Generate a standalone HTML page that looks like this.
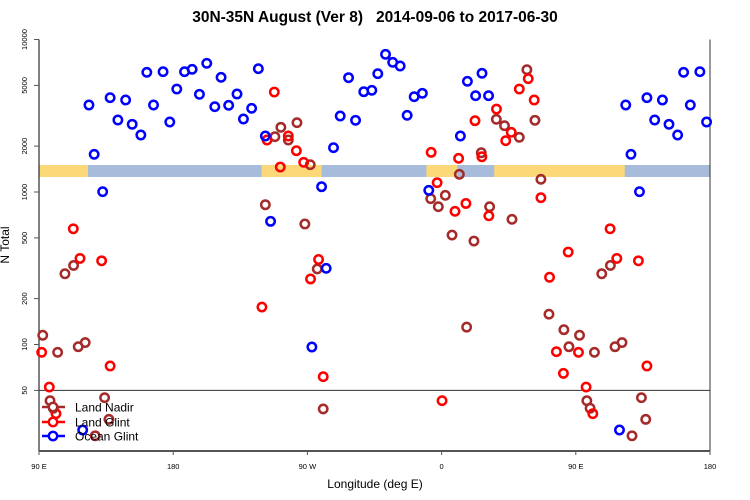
<!DOCTYPE html>
<html><head><meta charset="utf-8">
<style>
html,body{margin:0;padding:0;background:#fff;}
svg{display:block;font-family:"Liberation Sans",Arial,sans-serif;}
</style></head>
<body>
<svg id="chart" width="750" height="500" viewBox="0 0 750 500">
<text x="375" y="22" text-anchor="middle" font-size="15.5" font-weight="bold">30N-35N August (Ver 8)&#160;&#160; 2014-09-06 to 2017-06-30</text>
<text x="375" y="488" text-anchor="middle" font-size="12">Longitude (deg E)</text>
<text x="9" y="245" text-anchor="middle" font-size="12" transform="rotate(-90 9 245)">N Total</text>
<g id="band"></g>
<g id="axes"></g>
<g id="marks"></g>
<g id="legend"></g>
</svg>
<script>
// ---- data ----
const yTicks = [10000, 5000, 2000, 1000, 500, 200, 100, 50];
const xTickPos = [90, 180, 270, 360, 450, 540];
const xTickLabels = ["90 E", "180", "90 W", "0", "90 E", "180"];
const landRanges = [[90, 122.8], [-120.7, -80.5], [-10.2, 10.6], [35.3, 120.4]];

const oceanLon = [123.5,127.0,132.7,137.7,142.9,148.1,152.5,158.3,162.3,166.8,173.2,177.7,-177.6,-172.4,-167.3,-162.4,-157.5,-152.1,-147.9,-142.8,-137.2,-132.9,-127.4,-122.9,-118.2,-114.7,-87.0,-77.4,-80.5,-72.5,-68.0,-62.4,-57.7,-52.2,-46.8,-42.8,-37.6,-32.8,-27.8,-23.1,-18.4,-12.9,-8.6,12.6,17.3,22.8,27.1,31.5,119.3];
const oceanN = [3720,1767,1005,4153,2966,4012,2780,2365,6094,3720,6150,2877,4735,6150,6376,4373,6980,3625,5650,3703,4393,3011,3539,6435,2329,642,96.3,316,1083,1952,3150,5620,2953,4546,4644,5967,7998,7087,6702,3184,4216,4439,1026,2329,5319,4280,6004,4280,27.5];

const glintLon = [91.8,96.9,101.4,113.0,117.5,132.0,137.7,-120.5,-117.1,-112.2,-108.2,-102.8,-97.4,-92.5,-87.9,-82.5,-79.4,-7.0,-3.0,0.3,9.0,11.4,16.3,22.4,27.0,31.7,36.8,43.0,46.7,52.1,58.1,62.1,66.6,72.4,77.0,81.7,84.9];
const glintN = [88.9,52.6,35.2,574,367,354,72.3,176,2193,4525,1458,2329,1865,1566,269,361,61.5,1820,1151,42.8,747,1663,841,2934,1703,698,3500,2170,2463,4735,5534,4012,918,276,89.7,64.7,404];

const nadirLon = [92.5,97.4,99.6,102.5,107.4,113.2,116.3,121.0,127.7,134.0,136.9,-118.2,-111.8,-107.8,-102.8,-97.0,-91.7,-88.1,-83.4,-79.4,-7.3,-2.2,2.5,7.0,11.9,16.8,21.7,26.6,32.2,36.7,42.2,47.2,52.1,57.2,62.6,66.6,72.0,82.0,85.4];
const nadirN = [115,42.8,38.2,88.9,291,330,96.7,103,25.2,44.8,32.3,825,2305,2657,2193,2848,617,1510,313,37.8,904,801,951,522,1306,130,477,1809,801,2997,2722,662,2284,6339,2953,1211,158,125,96.7];

// ---- scales ----
const X0 = 39, X1 = 710, Y0 = 39.5, Y1 = 451;
const U0 = 90, U1 = 540;
const xs = u => X0 + (u - U0) * (X1 - X0) / (U1 - U0);
const ys = n => Y0 + (4 - Math.log10(n)) * 152.5;
function unwraps(lon) {
  let u = lon < 90 ? lon + 360 : lon;
  const out = [];
  for (let k = -1; k <= 1; k++) { const v = u + 360 * k; if (v >= U0 - 0.5 && v <= U1 + 0.5) out.push(v); }
  return out;
}
const NS = "http://www.w3.org/2000/svg";
function mk(tag, attrs, parent) {
  const e = document.createElementNS(NS, tag);
  for (const k in attrs) e.setAttribute(k, attrs[k]);
  parent.appendChild(e); return e;
}

// band
const band = document.getElementById('band');
const bg = mk('rect', {x: X0, y: 165, width: X1 - X0, height: 12, fill: '#a7bcda'}, band);


landRanges.forEach(r => {
  unwraps(r[0]).forEach(u0 => {
    const a = xs(u0), b = Math.min(xs(u0 + (r[1] - r[0])), X1);
    const seg = mk('rect', {x: a, y: 165, width: b - a, height: 12, fill: '#fdd878'}, band);
    
    
  });
});

// axes
const axes = document.getElementById('axes');
mk('line', {x1: X0, y1: Y0, x2: X0, y2: Y1, stroke: '#000', 'stroke-width': 1}, axes);
mk('line', {x1: X1, y1: Y0, x2: X1, y2: Y1, stroke: '#333', 'stroke-width': 1}, axes);
mk('line', {x1: X0, y1: Y1, x2: X1, y2: Y1, stroke: '#555', 'stroke-width': 2}, axes);
mk('line', {x1: X0, y1: ys(50), x2: X1, y2: ys(50), stroke: '#333', 'stroke-width': 1}, axes);
yTicks.forEach(t => {
  const y = ys(t);
  mk('line', {x1: X0 - 5, y1: y, x2: X0, y2: y, stroke: '#555', 'stroke-width': 1}, axes);
  const tx = mk('text', {x: 27, y: y, 'font-size': 7.5, 'text-anchor': 'middle', transform: `rotate(-90 27 ${y})`}, axes);
  tx.textContent = t;
  
  
});
xTickPos.forEach((u, i) => {
  const x = xs(u);
  mk('line', {x1: x, y1: Y1, x2: x, y2: Y1 + 4, stroke: '#555', 'stroke-width': 1}, axes);
  const tx = mk('text', {x: x, y: 469, 'font-size': 7.5, 'text-anchor': 'middle'}, axes);
  tx.textContent = xTickLabels[i];
  
  
});

// marks
const marks = document.getElementById('marks');
function series(lons, vals, color, name) {
  lons.forEach((lon, i) => {
    unwraps(lon).forEach(u => {
      const c = mk('circle', {cx: xs(u), cy: ys(vals[i]), r: 4.2, fill: 'none', stroke: color, 'stroke-width': 2.5}, marks);
      
      
    });
  });
}
series(nadirLon, nadirN, '#a52a2a', 'land-nadir-point');
series(glintLon, glintN, '#ff0000', 'land-glint-point');
series(oceanLon, oceanN, '#0000ff', 'ocean-glint-point');

// legend
const legend = document.getElementById('legend');
const legItems = [['Land Nadir', '#a52a2a', 407], ['Land Glint', '#ff0000', 422], ['Ocean Glint', '#0000ff', 436]];
legItems.forEach(it => {
  const g = mk('g', {}, legend);
  
  
  mk('line', {x1: 42, y1: it[2], x2: 65, y2: it[2], stroke: it[1], 'stroke-width': 2.6}, g);
  mk('circle', {cx: 53, cy: it[2], r: 4.2, fill: '#fff', stroke: it[1], 'stroke-width': 2.4}, g);
  const t = mk('text', {x: 75, y: it[2] + 4.5, 'font-size': 12, fill: '#000'}, g);
  t.textContent = it[0];
});
</script>
</body></html>
